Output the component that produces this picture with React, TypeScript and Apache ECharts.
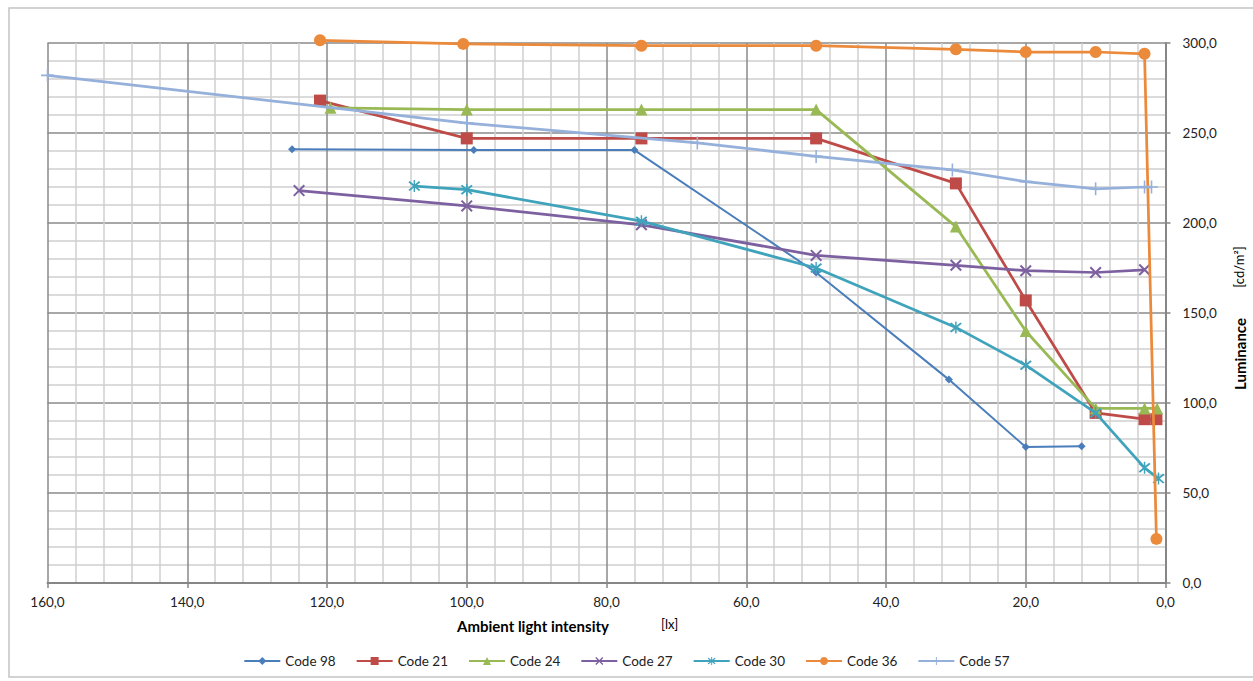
import React, { useEffect, useRef } from "react";
import * as echarts from "echarts";

const seriesNames = ["Code 98", "Code 21", "Code 24", "Code 27", "Code 30", "Code 36", "Code 57"];

const code98: [number, number][] = [[125, 241], [99, 240.5], [76, 240.5], [50, 172.5], [31, 113], [20, 75.5], [12, 76]];
const code21: [number, number][] = [[121, 268], [100, 247], [75, 247], [50, 247], [30, 222], [20, 157], [10, 94.5], [3, 91], [1.3, 91]];
const code24: [number, number][] = [[119.5, 264], [100, 263], [75, 263], [50, 263], [30, 198], [20, 140], [10, 97], [3, 97], [1.2, 97]];
const code27: [number, number][] = [[124, 218], [100, 209.5], [75, 199], [50, 182], [30, 176.5], [20, 173.5], [10, 172.5], [3, 174]];
const code30: [number, number][] = [[107.5, 220.5], [100, 218.5], [75, 201], [50, 175], [30, 142], [20, 121], [10, 94.5], [3, 64], [1, 58]];
const code36: [number, number][] = [[121, 301.5], [100.5, 299.5], [75, 298.5], [50, 298.5], [30, 296.5], [20, 295], [10, 295], [3, 294], [1.3, 24.5]];
const code57: [number, number][] = [[160, 282], [100, 255.5], [67, 244.5], [50, 237], [30.5, 229.5], [20, 223], [10, 219], [3, 220], [2, 220]];

const seriesData = [code98, code21, code24, code27, code30, code36, code57];
const colors = ["#4A7EBB", "#BE4B48", "#98B954", "#7D60A0", "#3FA3BC", "#EC8A3C", "#95B0DA"];

const X_PATH = "path://M0,1.2 L1.2,0 L10,8.8 L8.8,10 Z M8.8,0 L10,1.2 L1.2,10 L0,8.8 Z";
const STAR_PATH = "path://M0,1.2 L1.2,0 L10,8.8 L8.8,10 Z M8.8,0 L10,1.2 L1.2,10 L0,8.8 Z M4.4,-1 L5.6,-1 L5.6,11 L4.4,11 Z";
const PLUS_PATH = "path://M4.4,0 L5.6,0 L5.6,10 L4.4,10 Z M0,4.4 L10,4.4 L10,5.6 L0,5.6 Z";

const symbols = ["diamond", "rect", "triangle", X_PATH, STAR_PATH, "circle", PLUS_PATH];
const symbolSizes = [8, 12, 12, 12, 12, 12, 13];
const lineWidths = [2, 2.75, 2.75, 2.75, 2.75, 2.75, 2.75];

const FONT = "Lato, 'Open Sans', sans-serif";
const fmt = (v: number) => v.toFixed(1).replace(".", ",");

export default function App() {
  const ref = useRef<HTMLDivElement>(null);
  useEffect(() => {
    if (!ref.current) return;
    const chart = echarts.init(ref.current, null, { renderer: "svg" });
    chart.setOption({
      animation: false,
      backgroundColor: "#ffffff",
      grid: { left: 47.5, right: 87.5, top: 43, bottom: 98, containLabel: false },
      legend: {
        data: seriesNames,
        bottom: 8,
        left: "center",
        itemWidth: 36,
        itemHeight: 10,
        itemGap: 20,
        textStyle: { fontFamily: FONT, fontSize: 13.5, color: "#222" },
      },
      xAxis: {
        type: "value",
        min: 0,
        max: 160,
        interval: 20,
        inverse: true,
        axisLine: { show: true, onZero: false, lineStyle: { color: "#868686", width: 2 } },
        axisTick: { show: true, length: 5, lineStyle: { color: "#868686", width: 1.5 } },
        axisLabel: { formatter: fmt, margin: 12, fontFamily: FONT, fontSize: 13.5, color: "#222" },
        splitLine: { show: true, lineStyle: { color: "#8a8a8a", width: 1.5 } },
        minorTick: { show: false, splitNumber: 5 },
        minorSplitLine: { show: true, lineStyle: { color: "#cfcfcf", width: 1.5 } },
      },
      yAxis: {
        type: "value",
        position: "right",
        min: 0,
        max: 300,
        interval: 50,
        axisLine: { show: true, lineStyle: { color: "#868686", width: 2 } },
        axisTick: { show: true, length: 5, lineStyle: { color: "#868686", width: 1.5 } },
        axisLabel: { formatter: fmt, margin: 17, fontFamily: FONT, fontSize: 13.5, color: "#222" },
        splitLine: { show: true, lineStyle: { color: "#8a8a8a", width: 1.5 } },
        minorTick: { show: false, splitNumber: 5 },
        minorSplitLine: { show: true, lineStyle: { color: "#cfcfcf", width: 1.5 } },
      },
      graphic: [
        {
          type: "rect",
          silent: true,
          shape: { x: 9, y: 8, width: 1260, height: 669 },
          style: { fill: "none", stroke: "#c4c4c4", lineWidth: 1.5 },
        },
        {
          type: "text",
          x: 457,
          y: 626,
          style: {
            text: "Ambient light intensity",
            font: "bold 15px " + FONT,
            fill: "#000",
            textVerticalAlign: "middle",
          },
        },
        {
          type: "text",
          x: 661,
          y: 624,
          style: { text: "[lx]", font: "13px " + FONT, fill: "#000", textVerticalAlign: "middle" },
        },
        {
          type: "text",
          x: 1240,
          y: 354,
          rotation: Math.PI / 2,
          style: {
            text: "Luminance",
            font: "bold 15px " + FONT,
            fill: "#000",
            textAlign: "center",
            textVerticalAlign: "middle",
          },
        },
        {
          type: "text",
          x: 1239,
          y: 267,
          rotation: Math.PI / 2,
          style: {
            text: "[cd/m²]",
            font: "13px " + FONT,
            fill: "#000",
            textAlign: "center",
            textVerticalAlign: "middle",
          },
        },
      ],
      series: seriesNames.map((name, i) => ({
        name,
        type: "line",
        data: seriesData[i],
        symbol: symbols[i],
        symbolSize: symbolSizes[i],
        showSymbol: true,
        clip: false,
        color: colors[i],
        lineStyle: { color: colors[i], width: lineWidths[i] },
        itemStyle: { color: colors[i] },
        z: 2 + i,
      })),
    });
    return () => chart.dispose();
  }, []);
  return (
    <div
      ref={ref}
      style={{ position: "fixed", left: 0, top: 0, width: 1253, height: 681, background: "#fff" }}
    />
  );
}
